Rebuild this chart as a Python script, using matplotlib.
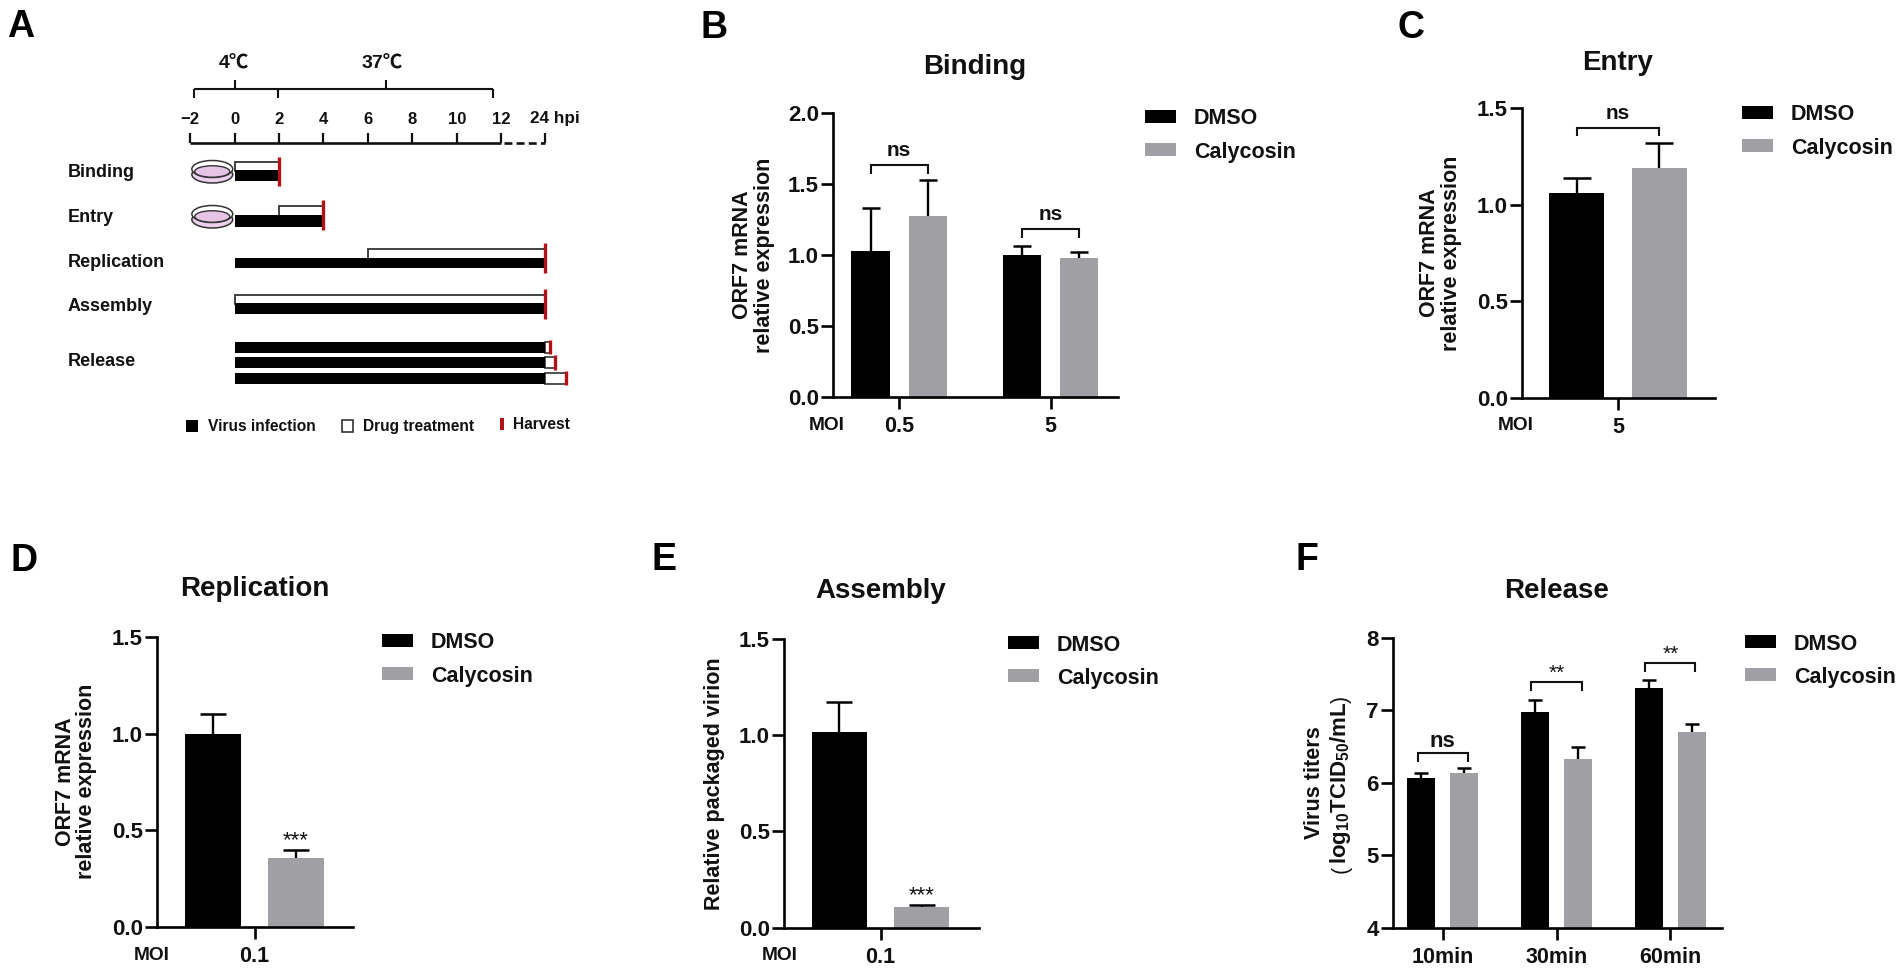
import matplotlib
matplotlib.use("Agg")
import matplotlib.pyplot as plt
from matplotlib.patches import Ellipse, Rectangle

W, H = 1902, 972
BLACK = "#000000"
GRAY = "#a0a0a4"
RED = "#b01218"
INK = "#111111"

series_names = ["DMSO", "Calycosin"]

binding_groups = ["0.5", "5"]
binding_dmso = [1.03, 1.00]
binding_caly = [1.27, 0.98]
binding_dmso_err = [0.30, 0.06]
binding_caly_err = [0.255, 0.04]
binding_ticks = [0.0, 0.5, 1.0, 1.5, 2.0]
binding_marks = ["ns", "ns"]
binding_mark_y = [1.632, 1.18]

entry_groups = ["5"]
entry_dmso = [1.06]
entry_caly = [1.19]
entry_dmso_err = [0.08]
entry_caly_err = [0.13]
entry_ticks = [0.0, 0.5, 1.0, 1.5]
entry_marks = ["ns"]
entry_mark_y = [1.40]

repl_groups = ["0.1"]
repl_dmso = [1.00]
repl_caly = [0.36]
repl_dmso_err = [0.10]
repl_caly_err = [0.04]
repl_ticks = [0.0, 0.5, 1.0, 1.5]

asm_groups = ["0.1"]
asm_dmso = [1.015]
asm_caly = [0.105]
asm_dmso_err = [0.155]
asm_caly_err = [0.015]
asm_ticks = [0.0, 0.5, 1.0, 1.5]

rel_groups = ["10min", "30min", "60min"]
rel_dmso = [6.07, 6.98, 7.30]
rel_caly = [6.13, 6.33, 6.70]
rel_dmso_err = [0.06, 0.16, 0.12]
rel_caly_err = [0.07, 0.16, 0.11]
rel_ticks = [4, 5, 6, 7, 8]
rel_marks = ["ns", "**", "**"]
rel_mark_y = [6.41, 7.385, 7.647]

# schedule of panel A, x in hour positions (24 hpi sits at position 14)
time_labels = ["\u22122", "0", "2", "4", "6", "8", "10", "12"]
time_pos = [-2, 0, 2, 4, 6, 8, 10, 12]
end_pos = 14
protocols = ["Binding", "Entry", "Replication", "Assembly"]
virus_end = [2, 4, 14, 14]
drug_start = [0, 2, 6, 0]
drug_end = [2, 4, 14, 14]
release_ends = [14.19, 14.41, 14.92]

plt.rcParams["font.family"] = ["Liberation Sans", "Noto Sans CJK SC", "DejaVu Sans"]
plt.rcParams["font.weight"] = "bold"
plt.rcParams["mathtext.fontset"] = "custom"
plt.rcParams["mathtext.rm"] = "Liberation Sans:bold"
plt.rcParams["mathtext.default"] = "regular"

fig = plt.figure(figsize=(W / 100, H / 100), dpi=100)


def fx(px):
    return px / W


def fy(py):
    return 1 - py / H


def ftext(x, y, s, **kw):
    kw.setdefault("ha", "center")
    kw.setdefault("va", "center")
    kw.setdefault("color", INK)
    return fig.text(fx(x), fy(y), s, **kw)


def bar_panel(left, right, top, bottom, ylim, yticks, fmt, groups, dmso, caly, dmso_err, caly_err,
              tick0, spacing, off, bar_w, cap):
    ax = fig.add_axes([fx(left), fy(bottom), (right - left) / W, (bottom - top) / H])
    ax.set_xlim((left - tick0) / spacing, (right - tick0) / spacing)
    ax.set_ylim(*ylim)
    xs = list(range(len(groups)))
    d = off / spacing
    w = bar_w / spacing
    x1 = [x - d for x in xs]
    x2 = [x + d for x in xs]
    ek = dict(ecolor=BLACK, elinewidth=1.7, capsize=cap, capthick=1.8)
    zero = [0] * len(xs)
    b1 = ax.bar(x1, dmso, w, color=BLACK, label=series_names[0], yerr=[zero, dmso_err], error_kw=ek)
    b2 = ax.bar(x2, caly, w, color=GRAY, label=series_names[1], yerr=[zero, caly_err], error_kw=ek)
    # only the upper whisker is shown
    for b in (b1, b2):
        b.errorbar.lines[1][0].set_visible(False)
    ax.set_xticks(xs)
    ax.set_xticklabels(groups, fontsize=15.5, fontweight="bold", color=INK)
    ax.set_yticks(yticks)
    ax.set_yticklabels([fmt.format(v) for v in yticks], fontsize=16, fontweight="bold", color=INK)
    ax.tick_params(axis="both", length=8.6, width=1.9, color=BLACK)
    ax.tick_params(axis="x", pad=5)
    ax.tick_params(axis="y", pad=1.5)
    for s in ["top", "right"]:
        ax.spines[s].set_visible(False)
    for s in ["left", "bottom"]:
        ax.spines[s].set_linewidth(1.9)
    return ax, x1, x2


def add_legend(ax, x, y):
    # x, y: top-left of the first patch in pixels
    ax.legend(loc="upper left", bbox_to_anchor=(fx(x), fy(y - 3.5)), bbox_transform=fig.transFigure,
              frameon=False, prop=dict(size=15.5, weight="bold"), borderpad=0, borderaxespad=0,
              handlelength=1.44, handleheight=0.55, handletextpad=0.82, labelspacing=0.56,
              labelcolor=INK)


def bracket(ax, x1, x2, y, drop, label, text_dy, size=15, weight="bold"):
    ax.plot([x1, x1, x2, x2], [y - drop, y, y, y - drop], color=INK, lw=1.5, clip_on=False,
            solid_joinstyle="miter", solid_capstyle="butt")
    ax.annotate(label, ((x1 + x2) / 2, y), xytext=(0, text_dy), textcoords="offset pixels",
                ha="center", va="center", fontsize=size, fontweight=weight, color=INK)


def stars(ax, x, y):
    ax.annotate("***", (x, y), xytext=(0, 9), textcoords="offset pixels",
                ha="center", va="center", fontsize=16, fontweight="normal", color=INK)


# B
ax, x1, x2 = bar_panel(833, 1118, 112.7, 397, (0, 2), binding_ticks, "{:.1f}", binding_groups,
                       binding_dmso, binding_caly, binding_dmso_err, binding_caly_err,
                       899.2, 151.4, 28.7, 38.2, 6.7)
add_legend(ax, 1145, 112)
for i in range(2):
    bracket(ax, x1[i], x2[i], binding_mark_y[i], 0.063, binding_marks[i], 15)
ftext(974.7, 66.5, "Binding", fontsize=20, fontweight="bold")
ftext(753.3, 255, "ORF7 mRNA\nrelative expression", rotation=90, fontsize=15.5, fontweight="bold",
      linespacing=1.05, multialignment="center")
ftext(827, 426, "MOI", fontsize=13.8, fontweight="bold")

# C
ax, x1, x2 = bar_panel(1521.9, 1715.4, 108.3, 397.7, (0, 1.5), entry_ticks, "{:.1f}", entry_groups,
                       entry_dmso, entry_caly, entry_dmso_err, entry_caly_err,
                       1617.9, 100, 41.3, 55, 10)
add_legend(ax, 1742.2, 108)
bracket(ax, x1[0], x2[0], entry_mark_y[0], 0.043, entry_marks[0], 14)
ftext(1617.9, 62.5, "Entry", fontsize=20, fontweight="bold")
ftext(1440.7, 253, "ORF7 mRNA\nrelative expression", rotation=90, fontsize=15.5, fontweight="bold",
      linespacing=1.05, multialignment="center")
ftext(1516, 425.7, "MOI", fontsize=13.8, fontweight="bold")

# D
ax, x1, x2 = bar_panel(157.1, 353, 636.7, 927.3, (0, 1.5), repl_ticks, "{:.1f}", repl_groups,
                       repl_dmso, repl_caly, repl_dmso_err, repl_caly_err,
                       254.5, 100, 41.6, 55.5, 9.6)
add_legend(ax, 382.4, 636)
stars(ax, x2[0], repl_caly[0] + repl_caly_err[0])
ftext(255, 588.5, "Replication", fontsize=20, fontweight="bold")
ftext(76, 781.7, "ORF7 mRNA\nrelative expression", rotation=90, fontsize=15.5, fontweight="bold",
      linespacing=1.05, multialignment="center")
ftext(151.8, 955, "MOI", fontsize=13.8, fontweight="bold")

# E
ax, x1, x2 = bar_panel(783.9, 978.6, 638.7, 927.7, (0, 1.5), asm_ticks, "{:.1f}", asm_groups,
                       asm_dmso, asm_caly, asm_dmso_err, asm_caly_err,
                       880.5, 100, 41.2, 54.7, 9.6)
add_legend(ax, 1008, 638)
stars(ax, x2[0], asm_caly[0] + asm_caly_err[0])
ftext(880.6, 591.2, "Assembly", fontsize=20, fontweight="bold")
ftext(714.5, 784, "Relative packaged virion", rotation=90, fontsize=15.5, fontweight="bold")
ftext(779.8, 955, "MOI", fontsize=13.8, fontweight="bold")

# F
ax, x1, x2 = bar_panel(1393, 1721.6, 637.7, 927.7, (4, 8), rel_ticks, "{:d}", rel_groups,
                       rel_dmso, rel_caly, rel_dmso_err, rel_caly_err,
                       1442.6, 113.9, 21.6, 28.5, 4.8)
add_legend(ax, 1745, 637)
for i in range(3):
    if rel_marks[i] == "ns":
        bracket(ax, x1[i] - 0.03, x2[i] + 0.03, rel_mark_y[i], 0.124, rel_marks[i], 11, 16)
    else:
        bracket(ax, x1[i] - 0.03, x2[i] + 0.03, rel_mark_y[i], 0.124, rel_marks[i], 9, 15, "normal")
ftext(1556.3, 590.5, "Release", fontsize=20, fontweight="bold")
ftext(1315, 783, "Virus titers", rotation=90, fontsize=15.6, fontweight="bold")
ftext(1340.5, 782.5, r"log$_{10}$TCID$_{50}$/mL", rotation=90, fontsize=16, fontweight="bold")
ftext(1341, 869, "(", rotation=90, fontsize=15.5, fontweight="normal")
ftext(1341, 699, ")", rotation=90, fontsize=15.5, fontweight="normal")

# A: x in hour positions, y in pixels from the top of the figure
PX0, HOUR = 234.7, 22.2
ax_a = fig.add_axes([0, fy(450), 640 / W, 450 / H])
ax_a.set_xlim(-PX0 / HOUR, (640 - PX0) / HOUR)
ax_a.set_ylim(450, 0)
ax_a.axis("off")
ax_a.patch.set_alpha(0)


def hline(x0, x1, y, lw=1.5, **kw):
    ax_a.plot([x0, x1], [y, y], color=INK, lw=lw, solid_capstyle="butt", **kw)


def vline(x, y0, y1, lw=1.5, color=INK):
    ax_a.plot([x, x], [y0, y1], color=color, lw=lw, solid_capstyle="butt")


def box(x0, x1, y0, y1, fc, ec="none", lw=0):
    ax_a.add_patch(Rectangle((x0, y0), x1 - x0, y1 - y0, facecolor=fc, edgecolor=ec, linewidth=lw))


def dish(y):
    ax_a.add_patch(Ellipse((-1.01, y + 5.5), 1.84, 17, facecolor="#ecd0ec", edgecolor="#333333", lw=1.1))
    ax_a.add_patch(Ellipse((-1.01, y), 1.84, 17, facecolor="white", edgecolor="#333333", lw=1.1))
    ax_a.add_patch(Ellipse((-1.01, y + 2.5), 1.58, 11.5, facecolor="#e6c4e6", edgecolor="#333333", lw=1.0))


# time axis
hline(time_pos[0], time_pos[-1], 142.7, lw=1.9)
for p, lab in zip(time_pos, time_labels):
    vline(p, 133, 143.5, lw=1.6)
    ax_a.text(p, 119, lab, ha="center", va="center", fontsize=12, fontweight="bold", color=INK)
ax_a.plot([time_pos[-1] + 0.12, end_pos], [142.7, 142.7], color=INK, lw=1.9, dashes=(3.0, 1.6))
vline(end_pos, 133, 143.5, lw=1.6)
ax_a.text(13.28, 119, "24 hpi", ha="left", va="center", fontsize=12.3, fontweight="bold", color=INK)

# temperature brackets
hline(-1.84, 1.94, 89.3)
hline(1.94, 11.62, 89.3)
for p in [-1.84, 1.94, 11.62]:
    vline(p, 89, 97.7)
vline(0.035, 80, 89.3)
vline(6.8, 80, 89.3)
ax_a.text(-0.05, 64, "4\u2103", ha="center", va="center", fontsize=14, fontweight="bold", color=INK)
ax_a.text(6.62, 64, "37\u2103", ha="center", va="center", fontsize=14, fontweight="bold", color=INK)

# protocol rows
row_labels_y = [172.7, 217.7, 262, 306]
virus_y = [(170, 181), (214.7, 226.7), (258, 268), (303, 314)]
drug_top = [161.7, 206, 249, 295]
red_y = [(157, 186), (200, 230), (243, 273), (289, 319)]
label_x = (67.3 - PX0) / HOUR
for i, name in enumerate(protocols):
    ax_a.text(label_x, row_labels_y[i], name, ha="left", va="center", fontsize=13,
              fontweight="bold", color=INK)
    box(drug_start[i], drug_end[i], drug_top[i], virus_y[i][0] + 1, "white", ec="#333333", lw=1.3)
    box(0, virus_end[i], virus_y[i][0], virus_y[i][1], BLACK)
    vline(virus_end[i], red_y[i][0], red_y[i][1], lw=2.4, color=RED)
dish(169)
dish(214)

# release rows
ax_a.text(label_x, 361.7, "Release", ha="left", va="center", fontsize=13,
          fontweight="bold", color=INK)
rel_rows = [(341.7, 352.7), (357, 368), (372.7, 383.7)]
rel_red = [(340, 354), (355, 370), (370.7, 385)]
for end, (y0, y1), (r0, r1) in zip(release_ends, rel_rows, rel_red):
    box(14, end, y0, y1, "white", ec="#333333", lw=1.2)
    box(0, 14, y0, y1, BLACK)
    vline(end, r0, r1, lw=2.4, color=RED)

# panel A key
box((185.7 - PX0) / HOUR, (197.6 - PX0) / HOUR, 420, 431.7, BLACK)
ax_a.text((208 - PX0) / HOUR, 426, "Virus infection", ha="left", va="center", fontsize=11.2,
          fontweight="bold", color=INK)
box((342 - PX0) / HOUR, (353 - PX0) / HOUR, 420, 431.7, "white", ec="#333333", lw=1.2)
ax_a.text((363 - PX0) / HOUR, 426, "Drug treatment", ha="left", va="center", fontsize=11.2,
          fontweight="bold", color=INK)
box((500.4 - PX0) / HOUR, (504 - PX0) / HOUR, 418, 430, RED)
ax_a.text((513.5 - PX0) / HOUR, 424.7, "Harvest", ha="left", va="center", fontsize=11.2,
          fontweight="bold", color=INK)

# panel letters
letters = ["A", "B", "C", "D", "E", "F"]
letter_x = [20.4, 713.9, 1411.3, 24.5, 664.3, 1307]
letter_y = [26.7, 28, 28, 560.7, 560, 560]
for s, x, y in zip(letters, letter_x, letter_y):
    ftext(x, y, s, fontsize=27, fontweight="bold", color=BLACK)

fig.savefig("out.png", dpi=100)
